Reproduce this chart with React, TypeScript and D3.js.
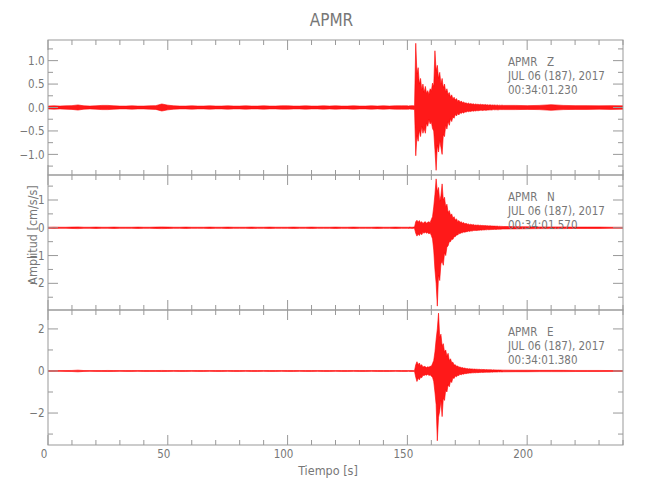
import * as d3 from "d3";

// station / record info
const stationName = "APMR";
const components = ["Z", "N", "E"];
const dateLabel = "JUL 06 (187), 2017";
const startTimes = ["00:34:01.230", "00:34:01.570", "00:34:01.380"];

// y ranges of the three panels (cm/s/s)
const yDomains: [number, number][] = [
  [-1.44, 1.44],
  [-2.96, 1.9],
  [-3.52, 2.9],
];
const yMajorTicks = [
  [-1, -0.5, 0, 0.5, 1],
  [-2, -1, 0, 1],
  [-2, 0, 2],
];
const yMajorLabels = [
  ["\u22121.0", "\u22120.5", "0.0", "0.5", "1.0"],
  ["\u22122", "\u22121", "0", "1"],
  ["\u22122", "0", "2"],
];
const yMinorTicks = [
  [-1.25, -0.75, -0.25, 0.25, 0.75, 1.25],
  [-2.5, -1.5, -0.5, 0.5, 1.5],
  [-3, -1, 1],
];
const xMajorTicks = [0, 50, 100, 150, 200];

// envelope of the traces (min / max per time bin)
const preTimes = [
  0, 2.5, 5, 7.5, 10, 12.5, 15, 17.5, 20, 22.5, 25, 27.5, 30, 32.5, 35, 37.5, 40, 42.5, 45, 47.5,
  50, 52.5, 55, 57.5, 60, 62.5, 65, 67.5, 70, 72.5, 75, 77.5, 80, 82.5, 85, 87.5, 90, 92.5, 95, 97.5,
  100, 102.5, 105, 107.5, 110, 112.5, 115, 117.5, 120, 122.5, 125, 127.5, 130, 132.5, 135, 137.5, 140, 142.5, 145, 147.5,
];
const preAmpZ = [
  0.03, 0.035, 0.03, 0.035, 0.04, 0.055, 0.035, 0.03, 0.035, 0.045, 0.045, 0.035, 0.03, 0.03, 0.035, 0.03, 0.03, 0.035, 0.04, 0.075,
  0.05, 0.035, 0.03, 0.03, 0.035, 0.03, 0.03, 0.035, 0.03, 0.03, 0.035, 0.03, 0.03, 0.035, 0.03, 0.03, 0.035, 0.03, 0.03, 0.035,
  0.035, 0.03, 0.03, 0.035, 0.03, 0.03, 0.035, 0.03, 0.035, 0.03, 0.03, 0.035, 0.03, 0.03, 0.035, 0.03, 0.035, 0.03, 0.035, 0.035,
];
const preAmpN = [
  0.02, 0.025, 0.02, 0.02, 0.025, 0.03, 0.02, 0.02, 0.025, 0.02, 0.02, 0.025, 0.02, 0.02, 0.02, 0.025, 0.02, 0.02, 0.025, 0.03,
  0.025, 0.02, 0.02, 0.025, 0.02, 0.02, 0.02, 0.025, 0.02, 0.02, 0.025, 0.02, 0.02, 0.02, 0.025, 0.02, 0.02, 0.025, 0.02, 0.02,
  0.02, 0.025, 0.02, 0.02, 0.025, 0.02, 0.02, 0.02, 0.025, 0.02, 0.02, 0.025, 0.02, 0.02, 0.02, 0.025, 0.02, 0.02, 0.025, 0.02,
];
const preAmpE = [
  0.02, 0.02, 0.018, 0.02, 0.025, 0.04, 0.02, 0.018, 0.02, 0.02, 0.025, 0.02, 0.018, 0.02, 0.02, 0.018, 0.02, 0.02, 0.02, 0.025,
  0.02, 0.018, 0.02, 0.02, 0.018, 0.02, 0.02, 0.018, 0.02, 0.02, 0.018, 0.02, 0.02, 0.018, 0.02, 0.02, 0.018, 0.02, 0.02, 0.018,
  0.02, 0.02, 0.018, 0.02, 0.02, 0.018, 0.02, 0.02, 0.018, 0.02, 0.02, 0.018, 0.02, 0.02, 0.018, 0.02, 0.02, 0.02, 0.018, 0.02,
];

const eventTimes = [
  150, 150.5, 151, 151.5, 152, 152.5, 153, 153.5, 154, 154.5,
  155, 155.5, 156, 156.5, 157, 157.5, 158, 158.5, 159, 159.5,
  160, 160.5, 161, 161.5, 162, 162.5, 163, 163.5, 164, 164.5,
  165, 165.5, 166, 166.5, 167, 167.5, 168, 168.5, 169, 169.5,
  170, 170.5, 171, 171.5, 172, 172.5, 173, 173.5, 174, 174.5,
  175, 175.5, 176, 176.5, 177, 177.5, 178, 178.5, 179, 179.5,
  180, 180.5, 181, 181.5, 182, 182.5, 183, 183.5, 184, 184.5,
  185, 185.5, 186, 186.5, 187, 187.5, 188, 188.5, 189, 189.5,
];
const eventUpperZ = [
  0.035, 0.03, 0.035, 0.035, 0.04, 0.035, 0.045, 1.37, 0.72, 0.85,
  0.5, 0.62, 0.38, 0.5, 0.32, 0.45, 0.3, 0.36, 0.28, 0.4,
  0.35, 0.52, 0.45, 1.21, 0.78, 0.9, 0.62, 0.75, 0.5, 0.62,
  0.42, 0.5, 0.33, 0.4, 0.28, 0.32, 0.22, 0.27, 0.18, 0.22,
  0.16, 0.19, 0.13, 0.16, 0.11, 0.14, 0.1, 0.12, 0.09, 0.1,
  0.08, 0.095, 0.075, 0.085, 0.07, 0.08, 0.065, 0.075, 0.065, 0.07,
  0.06, 0.07, 0.06, 0.065, 0.055, 0.065, 0.055, 0.06, 0.05, 0.06,
  0.05, 0.055, 0.05, 0.055, 0.045, 0.055, 0.045, 0.05, 0.045, 0.05,
];
const eventLowerZ = [
  -0.035, -0.035, -0.03, -0.035, -0.035, -0.04, -0.045, -1.03, -0.6, -0.72,
  -0.48, -0.62, -0.4, -0.55, -0.45, -0.55, -0.33, -0.4, -0.26, -0.35,
  -0.3, -0.45, -0.5, -0.9, -1.34, -0.8, -0.95, -0.7, -0.85, -1.0,
  -0.58, -0.62, -0.38, -0.46, -0.3, -0.38, -0.24, -0.3, -0.2, -0.23,
  -0.15, -0.18, -0.13, -0.16, -0.11, -0.13, -0.1, -0.12, -0.09, -0.1,
  -0.08, -0.09, -0.08, -0.085, -0.07, -0.08, -0.07, -0.075, -0.065, -0.07,
  -0.065, -0.06, -0.06, -0.065, -0.055, -0.06, -0.06, -0.055, -0.055, -0.05,
  -0.055, -0.05, -0.045, -0.05, -0.045, -0.05, -0.05, -0.045, -0.045, -0.045,
];
const eventUpperN = [
  0.02, 0.02, 0.025, 0.02, 0.02, 0.025, 0.03, 0.22, 0.27, 0.2,
  0.26, 0.18, 0.22, 0.15, 0.2, 0.22, 0.16, 0.2, 0.22, 0.18,
  0.3, 0.4, 0.75, 1.2, 1.76, 1.3, 1.45, 0.95, 1.15, 1.58,
  1.0, 1.1, 0.75, 0.85, 0.55, 0.62, 0.45, 0.5, 0.35, 0.4,
  0.28, 0.32, 0.22, 0.26, 0.19, 0.22, 0.16, 0.19, 0.14, 0.16,
  0.13, 0.14, 0.11, 0.13, 0.1, 0.12, 0.095, 0.1, 0.09, 0.1,
  0.085, 0.09, 0.08, 0.085, 0.075, 0.08, 0.07, 0.075, 0.065, 0.07,
  0.065, 0.065, 0.06, 0.06, 0.055, 0.06, 0.05, 0.055, 0.05, 0.05,
];
const eventLowerN = [
  -0.02, -0.025, -0.02, -0.02, -0.025, -0.02, -0.03, -0.2, -0.3, -0.22,
  -0.28, -0.2, -0.25, -0.16, -0.2, -0.15, -0.2, -0.17, -0.22, -0.18,
  -0.28, -0.4, -0.8, -1.5, -2.0, -2.82, -1.7, -1.9, -1.3, -1.2,
  -1.35, -0.9, -1.0, -0.7, -0.65, -0.5, -0.5, -0.4, -0.42, -0.32,
  -0.32, -0.26, -0.26, -0.21, -0.21, -0.18, -0.18, -0.15, -0.16, -0.14,
  -0.14, -0.12, -0.13, -0.11, -0.12, -0.1, -0.1, -0.095, -0.1, -0.085,
  -0.09, -0.08, -0.085, -0.075, -0.08, -0.07, -0.075, -0.065, -0.07, -0.065,
  -0.065, -0.06, -0.06, -0.055, -0.06, -0.05, -0.055, -0.05, -0.05, -0.045,
];
const eventUpperE = [
  0.02, 0.02, 0.018, 0.02, 0.02, 0.02, 0.025, 0.3, 0.44, 0.3,
  0.38, 0.25, 0.3, 0.18, 0.22, 0.2, 0.16, 0.2, 0.18, 0.22,
  0.22, 0.35, 0.5, 0.9, 1.5, 2.0, 2.75, 1.6, 1.75, 1.2,
  1.3, 0.9, 1.0, 0.7, 0.84, 0.5, 0.58, 0.4, 0.42, 0.28,
  0.3, 0.22, 0.24, 0.18, 0.19, 0.15, 0.16, 0.13, 0.14, 0.11,
  0.12, 0.1, 0.11, 0.09, 0.1, 0.085, 0.09, 0.08, 0.085, 0.075,
  0.08, 0.07, 0.075, 0.065, 0.07, 0.06, 0.065, 0.06, 0.06, 0.055,
  0.06, 0.05, 0.055, 0.05, 0.05, 0.045, 0.05, 0.045, 0.045, 0.04,
];
const eventLowerE = [
  -0.02, -0.018, -0.02, -0.02, -0.02, -0.025, -0.025, -0.3, -0.5, -0.35,
  -0.42, -0.3, -0.32, -0.2, -0.22, -0.18, -0.2, -0.16, -0.22, -0.18,
  -0.25, -0.3, -0.5, -1.0, -1.6, -3.32, -2.2, -1.9, -1.4, -2.17,
  -1.3, -1.4, -0.9, -1.0, -0.65, -0.75, -0.48, -0.55, -0.32, -0.36,
  -0.24, -0.28, -0.2, -0.22, -0.16, -0.18, -0.14, -0.15, -0.12, -0.13,
  -0.11, -0.11, -0.095, -0.1, -0.085, -0.09, -0.08, -0.085, -0.075, -0.08,
  -0.07, -0.075, -0.065, -0.07, -0.06, -0.065, -0.055, -0.06, -0.055, -0.055,
  -0.05, -0.055, -0.045, -0.05, -0.045, -0.05, -0.04, -0.045, -0.04, -0.045,
];

const postTimes = [190, 195, 200, 205, 210, 215, 220, 225, 230, 235, 240];
const postAmpZ = [0.045, 0.045, 0.04, 0.045, 0.06, 0.045, 0.04, 0.04, 0.035, 0.04, 0.035];
const postAmpN = [0.045, 0.04, 0.035, 0.03, 0.03, 0.03, 0.025, 0.025, 0.025, 0.02, 0.02];
const postAmpE = [0.04, 0.035, 0.035, 0.03, 0.03, 0.03, 0.025, 0.025, 0.025, 0.02, 0.02];

type Pt = { t: number; hi: number; lo: number };

function buildTrace(pre: number[], up: number[], low: number[], post: number[]): Pt[] {
  const a = preTimes.map((t, i) => ({ t, hi: pre[i], lo: -pre[i] }));
  const b = eventTimes.map((t, i) => ({ t, hi: up[i], lo: low[i] }));
  const c = postTimes.map((t, i) => ({ t, hi: post[i], lo: -post[i] }));
  return [...a, ...b, ...c];
}

const traces = [
  buildTrace(preAmpZ, eventUpperZ, eventLowerZ, postAmpZ),
  buildTrace(preAmpN, eventUpperN, eventLowerN, postAmpN),
  buildTrace(preAmpE, eventUpperE, eventLowerE, postAmpE),
];

const W = 650;
const H = 500;
const left = 48;
const right = 623;
const top0 = 40;
const panelH = 135;
const axisColor = "#999";
const textColor = "#777";
const font = "'DejaVu Sans Condensed', 'Liberation Sans Narrow', 'DejaVu Sans', sans-serif";

export default function App() {
  const x = d3.scaleLinear().domain([0, 240]).range([left, right]);
  const xTicks = x.ticks(24);

  return (
    <div style={{ position: "absolute", left: 0, top: 0, width: W, height: H, background: "#fff" }}>
      <svg width={W} height={H} style={{ display: "block", fontFamily: font }}>
        <text x={(left + right) / 2 - 4} y={26} textAnchor="middle" fontSize={17} fill={textColor}>
          {stationName}
        </text>

        {traces.map((data, i) => {
          const pTop = top0 + i * panelH;
          const pBot = pTop + panelH;
          const y = d3.scaleLinear().domain(yDomains[i]).range([pBot, pTop]);
          const area = d3
            .area<Pt>()
            .x((d) => x(d.t))
            .y0((d) => y(d.lo))
            .y1((d) => y(d.hi));
          const upLine = d3.line<Pt>().x((d) => x(d.t)).y((d) => y(d.hi));
          const loLine = d3.line<Pt>().x((d) => x(d.t)).y((d) => y(d.lo));
          return (
            <g key={i}>
              <clipPath id={`clip${i}`}>
                <rect x={left} y={pTop} width={right - left} height={panelH} />
              </clipPath>
              <g clipPath={`url(#clip${i})`}>
                <path d={area(data)!} fill="#ff0000" fillOpacity={0.9} />
                <path d={upLine(data)!} fill="none" stroke="#ff0000" strokeWidth={0.6} />
                <path d={loLine(data)!} fill="none" stroke="#ff0000" strokeWidth={0.6} />
              </g>
              <rect x={left} y={pTop} width={right - left} height={panelH} fill="none" stroke={axisColor} strokeWidth={1} />
              {/* x ticks, top and bottom */}
              {xTicks.map((t) => {
                const len = t % 50 === 0 ? 10 : 5;
                return (
                  <g key={`xt${t}`} stroke={axisColor}>
                    <line x1={x(t)} x2={x(t)} y1={pTop} y2={pTop + len} />
                    <line x1={x(t)} x2={x(t)} y1={pBot} y2={pBot - len} />
                  </g>
                );
              })}
              {/* y ticks, left and right */}
              {yMajorTicks[i].map((v) => (
                <g key={`ym${v}`} stroke={axisColor}>
                  <line x1={left} x2={left + 10} y1={y(v)} y2={y(v)} />
                  <line x1={right} x2={right - 10} y1={y(v)} y2={y(v)} />
                </g>
              ))}
              {yMinorTicks[i].map((v) => (
                <g key={`yn${v}`} stroke={axisColor}>
                  <line x1={left} x2={left + 5} y1={y(v)} y2={y(v)} />
                  <line x1={right} x2={right - 5} y1={y(v)} y2={y(v)} />
                </g>
              ))}
              {yMajorTicks[i].map((v, k) => (
                <text key={`yl${v}`} x={44.5} y={y(v)} dy="0.36em" textAnchor="end" fontSize={11.5} fill={textColor}>
                  {yMajorLabels[i][k]}
                </text>
              ))}
              {/* record info */}
              <g fontSize={11.5} fill={textColor}>
                <text x={508} y={pTop + 26}>{stationName}</text>
                <text x={547} y={pTop + 26}>{components[i]}</text>
                <text x={508} y={pTop + 40}>{dateLabel}</text>
                <text x={508} y={pTop + 54}>{startTimes[i]}</text>
              </g>
            </g>
          );
        })}

        {xMajorTicks.map((t) => (
          <text key={`xl${t}`} x={x(t) - 4} y={458} textAnchor="middle" fontSize={11.5} fill={textColor}>
            {t}
          </text>
        ))}
        <text x={328} y={475} textAnchor="middle" fontSize={12.5} fill={textColor}>
          Tiempo [s]
        </text>
        <text
          transform={`translate(37,235) rotate(-90)`}
          textAnchor="middle"
          fontSize={12.5}
          fill={textColor}
        >
          Amplitud [cm/s/s]
        </text>
      </svg>
    </div>
  );
}
